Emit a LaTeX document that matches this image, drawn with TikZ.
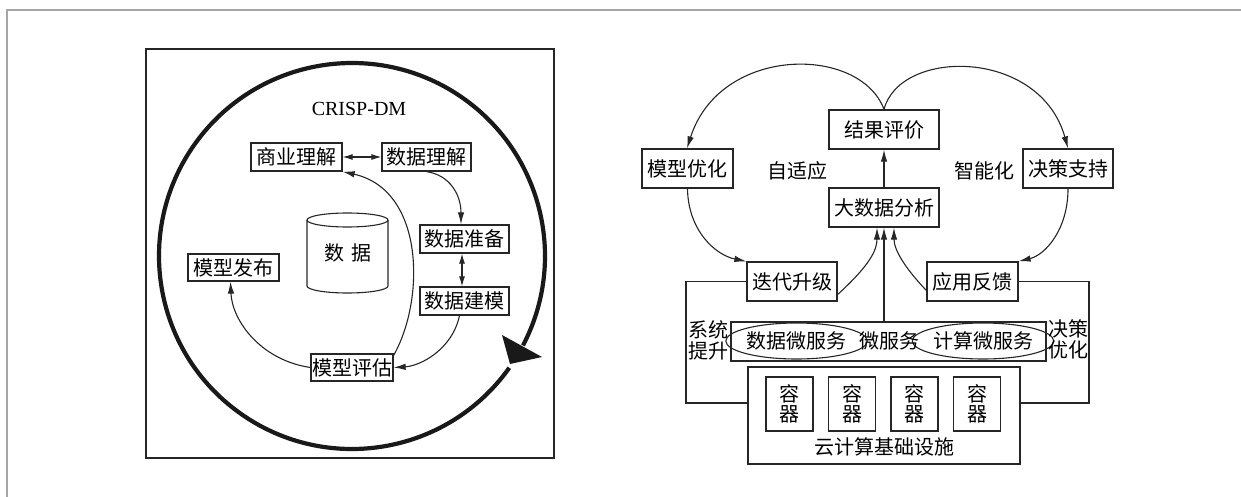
\documentclass[tikz,border=0pt]{standalone}
\usepackage{fontspec}
\setmainfont{Noto Sans CJK SC}
\newfontfamily\lser{Liberation Serif}
\usetikzlibrary{arrows.meta,shapes.geometric}
\begin{document}
\begin{tikzpicture}[x=1pt,y=-1pt,
  bx/.style={draw=black!85, line width=1.3pt, inner sep=0pt, font=\fontsize{20}{22}\selectfont},
  bxl/.style={bx, minimum height=28pt},
  bxr/.style={bx, minimum height=39pt},
  lbl/.style={inner sep=0pt, font=\fontsize{20}{21}\selectfont, align=center},
  ell/.style={ellipse, draw=black!85, line width=1.1pt, inner sep=0pt, minimum width=125pt, minimum height=36pt, font=\fontsize{20}{22}\selectfont},
  cont/.style={bx, minimum width=47pt, minimum height=54pt, align=center, font=\fontsize{20}{20}\selectfont},
  conn/.style={line width=1.1pt, draw=black!85},
  arr/.style={conn, -{Latex[length=12pt,width=6.5pt]}},
  darr/.style={conn, {Latex[length=10pt,width=6pt]}-{Latex[length=10pt,width=6pt]}},
  bigline/.style={line width=4.2pt, draw=black!90},
]
\useasboundingbox (0,0) rectangle (1241,497);
% outer frame
\draw[line width=1.5pt, draw=black!35] (7,497) -- (7,10) -- (1241,10);

% ---------------- left panel ----------------
\draw[line width=1.3pt, draw=black!85] (146,49) rectangle (554,458);
\draw[bigline] (509.3,367.8) arc[start angle=35.4, end angle=387.6, radius=193];
\fill[black!90] (502,335) -- (542,357) -- (510,364) -- cycle;

\node[inner sep=0pt, font=\lser\fontsize{20}{22}\selectfont] (crisp) at (359,109) {CRISP-DM};

\node[bxl, minimum width=91pt] (ms) at (296.5,157) {商业理解};
\node[bxl, minimum width=89pt] (dl) at (426.5,157) {数据理解};
\node[bxl, minimum width=89pt] (dp) at (464.5,239) {数据准备};
\node[bxl, minimum width=89pt] (dm) at (464.5,301) {数据建模};
\node[bxl, minimum width=91pt, minimum height=27pt] (mr) at (233.5,267.5) {模型发布};
\node[bxl, minimum width=82pt, minimum height=27pt] (me) at (352,367.5) {模型评估};

% cylinder
\draw[line width=1.1pt, draw=black!85] (347.5,220) ellipse[x radius=40.5, y radius=7];
\draw[line width=1.1pt, draw=black!85] (307,220) -- (307,286) arc[start angle=180, end angle=0, x radius=40.5, y radius=7] -- (388,220);
\node[lbl] (data) at (348,253) {数\,\,据};

\draw[darr] (ms.east) -- (dl.west);
\draw[arr] (dl.south) .. controls (450,175) and (461,195) .. ([xshift=-3.5pt]dp.north);
\draw[darr] ([xshift=-2.5pt]dp.south) -- ([xshift=-2.5pt]dm.north);
\draw[arr] ([xshift=-5pt]dm.south) .. controls (452,350) and (420,366) .. (me.east);
\draw[arr] ([yshift=-2pt]me.north east) .. controls (425,300) and (425,190) .. (ms.south east);
\draw[arr] (me.west) .. controls (260,360) and (232,320) .. ([xshift=-3pt]mr.south);

% ---------------- right panel ----------------
\node[bxr, minimum width=110pt] (jg) at (884,129.5) {结果评价};
\node[bxr, minimum width=110pt] (bd) at (884,207.5) {大数据分析};
\node[bxr, minimum width=91pt] (mo) at (687.5,168.5) {模型优化};
\node[bxr, minimum width=90pt] (jc) at (1068,168.5) {决策支持};
\node[bxr, minimum width=90pt] (dd) at (792,281.5) {迭代升级};
\node[bxr, minimum width=91pt] (af) at (972.5,281.5) {应用反馈};
\node[lbl] (zsy) at (797,171) {自适应};
\node[lbl] (znh) at (984,171) {智能化};

\node[bxr, minimum width=315pt] (msb) at (888.5,341.5) {};
\node[ell] (e1) at (796.5,341) {数据微服务};
\node[ell, minimum width=126pt] (e2) at (983,341) {计算微服务};
\node[lbl] (wfw) at (889,341) {微服务};

\node[bx, minimum width=272pt, minimum height=97pt] (cloud) at (884,415.5) {};
\node[lbl] (cl) at (884,447) {云计算基础设施};
\node[cont] (c1) at (789.5,404) {容\\器};
\node[cont] (c2) at (852,404) {容\\器};
\node[cont] (c3) at (914.5,404) {容\\器};
\node[cont] (c4) at (977,404) {容\\器};

\node[lbl] (xt) at (708,340.5) {系统\\提升};
\node[lbl] (jy) at (1068.5,339.5) {决策\\优化};

\draw[arr] (bd.north) -- (jg.south);
\draw[arr] (jg.north) .. controls (860,45) and (720,45) .. ([xshift=-0.5pt]mo.north);
\draw[arr] (jg.north) .. controls (900,48) and (1040,48) .. (jc.north);
\draw[arr] (mo.south) .. controls (688,230) and (715,255) .. (dd.north west);
\draw[arr] (jc.south) .. controls (1068,230) and (1045,255) .. (af.north east);
\draw[arr] ([yshift=-13pt]dd.east) .. controls (870,265) and (877,250) .. ([xshift=-7pt]bd.south);
\draw[arr] ([yshift=-9pt]af.west) .. controls (905,268) and (894,250) .. ([xshift=10pt]bd.south);
\draw[arr] (bd.south |- msb.north) -- (bd.south);

\coordinate (lc) at (686,403);
\coordinate (rc) at (1089,403);
\draw[conn] (dd.west) -| (lc) -- (lc -| cloud.west);
\draw[conn] (af.east) -| (rc) -- (rc -| cloud.east);
\end{tikzpicture}
\end{document}
